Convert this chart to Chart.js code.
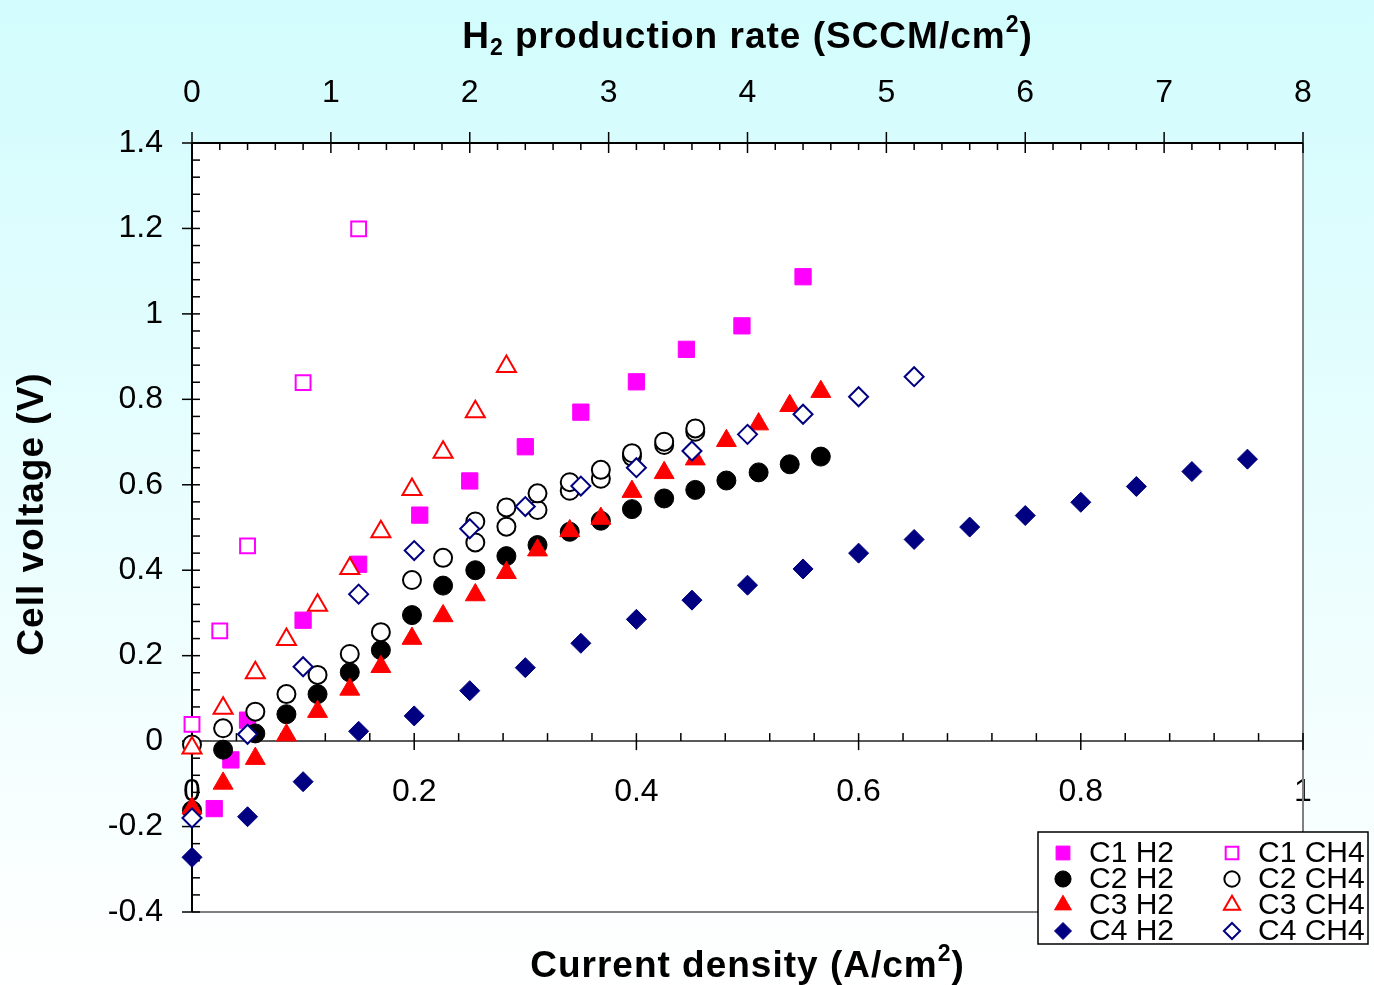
<!DOCTYPE html>
<html>
<head>
<meta charset="utf-8">
<title>Cell voltage vs current density</title>
<script src="https://cdn.jsdelivr.net/npm/chart.js@4.4.0/dist/chart.umd.min.js"></script>
<style>
  html, body { margin: 0; padding: 0; }
  body {
    width: 1374px;
    height: 985px;
    overflow: hidden;
    background: linear-gradient(to bottom, #d2fcfd 0%, #ffffff 100%);
  }
  #wrap { position: relative; width: 1374px; height: 985px; }
</style>
</head>
<body>
<div id="wrap"><canvas id="voltChart"></canvas></div>
<script>
// tick labels
const xTicks = [0, 0.2, 0.4, 0.6, 0.8, 1];
const yTicks = [-0.4, -0.2, 0, 0.2, 0.4, 0.6, 0.8, 1, 1.2, 1.4];
const rateTicks = [0, 1, 2, 3, 4, 5, 6, 7, 8];

// C1
const c1H2X = [0.02, 0.035, 0.05, 0.10, 0.15, 0.205, 0.25, 0.30, 0.35, 0.40, 0.445, 0.495, 0.55];
const c1H2Y = [-0.158, -0.044, 0.049, 0.283, 0.414, 0.529, 0.609, 0.689, 0.770, 0.841, 0.917, 0.972, 1.087];
const c1CH4X = [0, 0.025, 0.05, 0.10, 0.15];
const c1CH4Y = [0.039, 0.258, 0.457, 0.839, 1.199];

// C2
const c2H2X = [0, 0.028, 0.057, 0.085, 0.113, 0.142, 0.17, 0.198, 0.226, 0.255, 0.283,
               0.311, 0.34, 0.368, 0.396, 0.425, 0.453, 0.481, 0.51, 0.538, 0.566];
const c2H2Y = [-0.162, -0.020, 0.018, 0.063, 0.110, 0.161, 0.213, 0.295, 0.364, 0.400, 0.433,
               0.459, 0.490, 0.516, 0.543, 0.568, 0.588, 0.610, 0.629, 0.648, 0.666];
const c2CH4X = [0, 0.028, 0.057, 0.085, 0.113, 0.142, 0.17, 0.198, 0.226, 0.255, 0.255, 0.283, 0.283,
                0.311, 0.311, 0.34, 0.34, 0.368, 0.368, 0.396, 0.396, 0.425, 0.425, 0.453, 0.453];
const c2CH4Y = [-0.008, 0.030, 0.069, 0.110, 0.155, 0.204, 0.255, 0.377, 0.429, 0.465, 0.514, 0.502, 0.547,
                0.541, 0.580, 0.586, 0.606, 0.614, 0.635, 0.666, 0.674, 0.693, 0.701, 0.724, 0.732];

// C3
const c3H2X = [0, 0.028, 0.057, 0.085, 0.113, 0.142, 0.17, 0.198, 0.226, 0.255, 0.283,
               0.311, 0.34, 0.368, 0.396, 0.425, 0.453, 0.481, 0.51, 0.538, 0.566];
const c3H2Y = [-0.157, -0.099, -0.041, 0.014, 0.069, 0.121, 0.174, 0.240, 0.293, 0.342, 0.394,
               0.447, 0.492, 0.521, 0.584, 0.628, 0.660, 0.703, 0.742, 0.785, 0.818];
const c3CH4X = [0, 0.028, 0.057, 0.085, 0.113, 0.142, 0.17, 0.198, 0.226, 0.255, 0.283];
const c3CH4Y = [-0.016, 0.077, 0.160, 0.238, 0.318, 0.404, 0.490, 0.589, 0.676, 0.771, 0.877];

// C4
const c4H2X = [0, 0.05, 0.10, 0.15, 0.20, 0.25, 0.30, 0.35, 0.40, 0.45,
               0.50, 0.55, 0.60, 0.65, 0.70, 0.75, 0.80, 0.85, 0.90, 0.95];
const c4H2Y = [-0.272, -0.177, -0.095, 0.023, 0.059, 0.118, 0.172, 0.229, 0.285, 0.330,
               0.365, 0.403, 0.440, 0.472, 0.501, 0.528, 0.559, 0.596, 0.631, 0.660];
const c4CH4X = [0, 0.05, 0.10, 0.15, 0.20, 0.25, 0.30, 0.35, 0.40, 0.45, 0.50, 0.55, 0.60, 0.65];
const c4CH4Y = [-0.180, 0.016, 0.174, 0.344, 0.446, 0.497, 0.549, 0.597, 0.640, 0.679, 0.718, 0.765, 0.806, 0.853];

const FONT = "'Liberation Sans', Arial, sans-serif";
const MAGENTA = "#ff00ff", RED = "#ff0000", NAVY = "#000080";

const pts = (xs, ys) => xs.map((x, i) => ({ x: x, y: ys[i] }));
const fmt = v => String(Number(Number(v).toFixed(2)));

function filled(label, xs, ys, style, r, color, order) {
    return { label, data: pts(xs, ys), pointStyle: style, pointRadius: r, pointBorderWidth: 1,
             pointBackgroundColor: color, pointBorderColor: color, order, clip: false };
}
function hollow(label, xs, ys, style, r, color, order) {
    return { label, data: pts(xs, ys), pointStyle: style, pointRadius: r, pointBorderWidth: 2,
             pointBackgroundColor: "#ffffff", pointBorderColor: color, order, clip: false };
}

// legend order: left column H2, right column CH4
const datasets = [
    filled("C1 H2", c1H2X, c1H2Y, "rect", 11.5, MAGENTA, 8),
    filled("C2 H2", c2H2X, c2H2Y, "circle", 9.5, "#000000", 6),
    filled("C3 H2", c3H2X, c3H2Y, "triangle", 11.5, RED, 4),
    filled("C4 H2", c4H2X, c4H2Y, "rectRot", 10, NAVY, 2),
    hollow("C1 CH4", c1CH4X, c1CH4Y, "rect", 10.5, MAGENTA, 7),
    hollow("C2 CH4", c2CH4X, c2CH4Y, "circle", 9, "#000000", 5),
    hollow("C3 CH4", c3CH4X, c3CH4Y, "triangle", 11, RED, 3),
    hollow("C4 CH4", c4CH4X, c4CH4Y, "rectRot", 9.5, NAVY, 1)
];

function seg(ctx, x1, y1, x2, y2) {
    ctx.beginPath();
    ctx.moveTo(x1, y1);
    ctx.lineTo(x2, y2);
    ctx.stroke();
}

// text with sub/superscript pieces
function richText(ctx, parts, cx, base, size) {
    const big = "bold " + size + "px " + FONT;
    const small = "bold " + Math.round(size * 0.62) + "px " + FONT;
    ctx.letterSpacing = "1px";
    let w = 0;
    parts.forEach(p => { ctx.font = p.s ? small : big; p.w = ctx.measureText(p.t).width; w += p.w; });
    let x = cx - w / 2;
    ctx.textAlign = "left";
    ctx.textBaseline = "alphabetic";
    parts.forEach(p => {
        ctx.font = p.s ? small : big;
        const dy = p.s === "sub" ? size * 0.2 : p.s === "sup" ? -size * 0.42 : 0;
        ctx.fillText(p.t, x, base + dy);
        x += p.w;
    });
}

const framePlugin = {
    id: "frame",
    beforeDraw(chart) {
        const { ctx, chartArea: a } = chart;
        ctx.save();
        ctx.fillStyle = "#ffffff";
        ctx.fillRect(a.left, a.top, a.right - a.left, a.bottom - a.top);
        ctx.restore();
    },
    beforeDatasetsDraw(chart) {
        const { ctx, chartArea: a } = chart;
        const { x, y, x2 } = chart.scales;
        const y0 = y.getPixelForValue(0);
        ctx.save();
        ctx.strokeStyle = "#808080";
        ctx.lineWidth = 2;
        seg(ctx, a.right, a.top, a.right, a.bottom);
        seg(ctx, a.left, a.bottom, a.right, a.bottom);
        ctx.strokeStyle = "#5a5a5a";
        seg(ctx, a.left, y0, a.right, y0);

        ctx.strokeStyle = "#000000";
        ctx.lineWidth = 1.5;
        // left axis: major every 0.2, minor every 0.04
        for (let i = 0; i <= 45; i++) {
            const py = y.getPixelForValue(y.min + i * 0.04);
            if (i % 5 === 0) seg(ctx, a.left - 10, py, a.left + 8, py);
            else seg(ctx, a.left, py, a.left + 8, py);
        }
        // top axis: major every 1, minor every 0.2
        for (let i = 0; i <= 40; i++) {
            const px = x2.getPixelForValue(i * 0.2);
            if (i % 5 === 0) seg(ctx, px, a.top - 11, px, a.top + 10);
            else seg(ctx, px, a.top, px, a.top + 7);
        }
        // axis at y = 0: major every 0.2, minor every 0.04
        for (let i = 1; i <= 25; i++) {
            const px = x.getPixelForValue(i * 0.04);
            if (i % 5 === 0) seg(ctx, px, y0 - 8, px, y0 + 9);
            else seg(ctx, px, y0 - 8, px, y0);
        }
        ctx.lineWidth = 2;
        seg(ctx, a.left, a.top, a.right, a.top);
        seg(ctx, a.left, a.top, a.left, a.bottom);
        ctx.restore();
    },
    afterDraw(chart) {
        const { ctx, chartArea: a } = chart;
        const cx = (a.left + a.right) / 2;
        ctx.save();
        ctx.fillStyle = "#000000";
        richText(ctx, [{ t: "H" }, { t: "2", s: "sub" }, { t: " production rate (SCCM/cm" }, { t: "2", s: "sup" }, { t: ")" }], cx, 48, 37);
        richText(ctx, [{ t: "Current density (A/cm" }, { t: "2", s: "sup" }, { t: ")" }], cx, 977, 37);
        ctx.translate(0, 514);
        ctx.rotate(-Math.PI / 2);
        richText(ctx, [{ t: "Cell voltage (V)" }], 0, 43, 37);
        ctx.restore();

        // legend box
        const L = { left: 1038, top: 832, right: 1368, bottom: 944 };
        ctx.save();
        ctx.fillStyle = "#ffffff";
        ctx.fillRect(L.left, L.top, L.right - L.left, L.bottom - L.top);
        ctx.strokeStyle = "#000000";
        ctx.lineWidth = 1.5;
        ctx.strokeRect(L.left, L.top, L.right - L.left, L.bottom - L.top);
        ctx.font = "30px " + FONT;
        ctx.textBaseline = "middle";
        ctx.textAlign = "left";
        chart.data.datasets.forEach((ds, i) => {
            const col = Math.floor(i / 4), row = i % 4;
            const mx = 1063 + col * 169, my = 853 + row * 26;
            ctx.fillStyle = ds.pointBackgroundColor;
            ctx.strokeStyle = ds.pointBorderColor;
            ctx.lineWidth = ds.pointBorderWidth;
            Chart.helpers.drawPoint(ctx, { pointStyle: ds.pointStyle, rotation: 0,
                radius: ds.pointRadius * 0.85, borderWidth: ds.pointBorderWidth }, mx, my);
            ctx.fillStyle = "#000000";
            ctx.fillText(ds.label, mx + 26, my + 1);
        });
        ctx.restore();
    }
};

const tickFont = { family: FONT, size: 32 };

new Chart(document.getElementById("voltChart").getContext("2d"), {
    type: "scatter",
    data: { datasets: datasets },
    options: {
        responsive: true,
        maintainAspectRatio: false,
        animation: false,
        events: [],
        layout: { padding: { left: 0, top: 0, right: 71, bottom: 73 } },
        plugins: { legend: { display: false }, tooltip: { enabled: false } },
        scales: {
            x: {
                type: "linear",
                position: { y: 0 },
                min: 0,
                max: 1,
                afterBuildTicks: s => { s.ticks = xTicks.map(v => ({ value: v })); },
                ticks: { font: tickFont, color: "#000", padding: 32, maxRotation: 0, autoSkip: false, callback: fmt },
                grid: { display: false, drawTicks: false },
                border: { display: false }
            },
            x2: {
                type: "linear",
                position: "top",
                min: 0,
                max: 8,
                afterBuildTicks: s => { s.ticks = rateTicks.map(v => ({ value: v })); },
                afterFit: s => { s.height = 143; },
                ticks: { font: tickFont, color: "#000", padding: 31, maxRotation: 0, autoSkip: false, callback: fmt },
                grid: { display: false, drawTicks: false },
                border: { display: false }
            },
            y: {
                type: "linear",
                position: "left",
                min: -0.4,
                max: 1.4,
                afterBuildTicks: s => { s.ticks = yTicks.map(v => ({ value: v })); },
                afterFit: s => { s.width = 192; },
                ticks: { font: tickFont, color: "#000", padding: 29, autoSkip: false, callback: fmt },
                grid: { display: false, drawTicks: false },
                border: { display: false }
            }
        }
    },
    plugins: [framePlugin]
});
</script>
</body>
</html>
